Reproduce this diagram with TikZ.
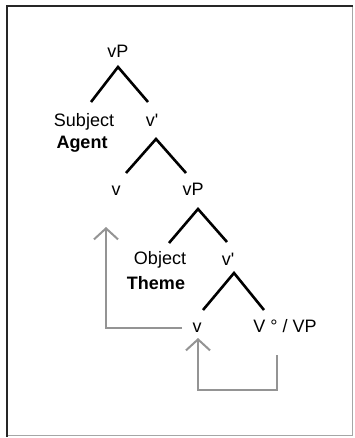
\documentclass[tikz,border=0pt]{standalone}
\usepackage{fontspec}
\setmainfont{Liberation Sans}
\usetikzlibrary{arrows.meta}

\begin{document}
\begin{tikzpicture}[
    x=1pt, y=-1pt,
    label/.style={anchor=base, inner sep=0pt, font=\fontsize{18}{21}\selectfont},
    role/.style={label, font=\fontsize{18}{21}\selectfont\bfseries},
    branch/.style={line width=2.6pt, black},
    move/.style={line width=2pt, draw=black!42, -{Straight Barb[length=11pt,width=24pt,line width=2pt]}}
]

\useasboundingbox (0,0) rectangle (355,438);

% Frame - dark on top and left, faint on right and bottom
\draw[black!35, line width=0.6pt] (352,6) -- (352,435) -- (7,435);
\draw[black!85, line width=2.4pt] (7,437) -- (7,6) -- (353,6);

% Upper shell
\node[label] (vp1) at (118,58) {vP};
\node[label] (subj) at (84,127) {Subject};
\node[role] (agent) at (82,149) {Agent};
\node[label] (vbar1) at (152,127) {v\textquotesingle};

% Light verb and lower shell
\node[label] (v1) at (116,196) {v};
\node[label] (vp2) at (193,196) {vP};
\node[label] (obj) at (160,264) {Object};
\node[role] (theme) at (156,289) {Theme};
\node[label] (vbar2) at (228,265) {v\textquotesingle};

% Lowest level
\node[label] (v2) at (197,332) {v};
\node[label] (vhead) at (285,332) {V ° / VP};

% Branches
\draw[branch] ([xshift=7,yshift=25]subj.base) -- ([yshift=-9]vp1.base) -- ([xshift=-4,yshift=25]vbar1.base);
\draw[branch] ([xshift=10,yshift=23]v1.base) -- ([xshift=4,yshift=-12]vbar1.base) -- ([xshift=-7,yshift=23]vp2.base);
\draw[branch] ([xshift=9,yshift=21]obj.base) -- ([xshift=5,yshift=-13]vp2.base) -- ([xshift=-1,yshift=23]vbar2.base);
\draw[branch] ([xshift=6,yshift=22]v2.base) -- ([xshift=6,yshift=-8]vbar2.base) -- ([xshift=-21,yshift=22]vhead.base);

% Movement arrows
\draw[move] ([xshift=-15,yshift=4]v2.base) -| ([xshift=-10,yshift=-31]v1.base);
\draw[move] ([xshift=-8,yshift=-23]vhead.base) -- ++(0,35) -| ([xshift=1,yshift=-6]v2.base);

\end{tikzpicture}
\end{document}
